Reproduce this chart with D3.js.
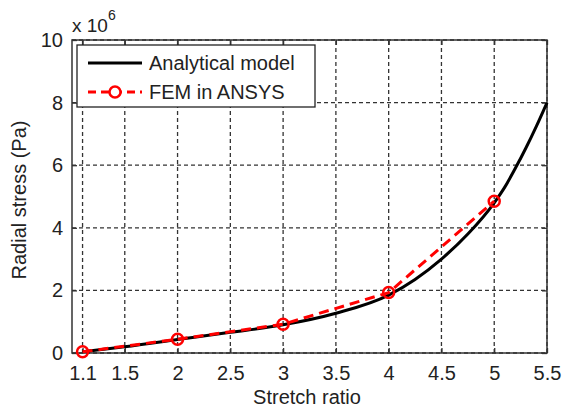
<!DOCTYPE html>
<html>
<head>
<meta charset="utf-8">
<script src="https://cdn.jsdelivr.net/npm/d3@7"></script>
<style>
  html, body { margin: 0; padding: 0; background: #fff; }
  svg text { font-family: "Liberation Sans", Arial, sans-serif; fill: #222; }
</style>
</head>
<body>
<svg id="chart" width="565" height="417"></svg>
<script>
// Analytical model curve (stretch ratio vs radial stress, in 10^6 Pa)
const analyticalStretch = [1.1, 1.5, 2, 2.5, 3, 3.5, 4, 4.25, 4.5, 4.75, 5, 5.1, 5.2, 5.3, 5.4, 5.5];
const analyticalStress  = [0.04, 0.2, 0.43, 0.66, 0.9, 1.27, 1.85, 2.35, 3.0, 3.8, 4.8, 5.3, 5.9, 6.55, 7.25, 8.0];

// FEM results from ANSYS
const femStretch = [1.1, 2, 3, 4, 5];
const femStress  = [0.04, 0.44, 0.92, 1.93, 4.85];

// Axis ticks
const xTicks = [1.1, 1.5, 2, 2.5, 3, 3.5, 4, 4.5, 5, 5.5];
const yTicks = [0, 2, 4, 6, 8, 10];

const seriesNames = ["Analytical model", "FEM in ANSYS"];

const svg = d3.select("#chart");
const m = { left: 72, right: 18, top: 40, bottom: 64 };
const W = 565, H = 417;
const pw = W - m.left - m.right, ph = H - m.top - m.bottom;

const x = d3.scaleLinear().domain([1, 5.5]).range([m.left, m.left + pw]);
const y = d3.scaleLinear().domain([0, 10]).range([m.top + ph, m.top]);

const g = svg.append("g");

// dotted grid
g.append("g").selectAll("line").data(xTicks).join("line")
  .attr("x1", d => x(d)).attr("x2", d => x(d))
  .attr("y1", y(0)).attr("y2", y(10))
  .attr("stroke", "#333").attr("stroke-width", 1.3).attr("stroke-dasharray", "4,3");
g.append("g").selectAll("line").data(yTicks).join("line")
  .attr("x1", x(1)).attr("x2", x(5.5))
  .attr("y1", d => y(d)).attr("y2", d => y(d))
  .attr("stroke", "#333").attr("stroke-width", 1.3).attr("stroke-dasharray", "4,3");

// axes with inward ticks on all four sides
const fs = 20;
const bottomAxis = d3.axisBottom(x).tickValues(xTicks).tickSizeInner(-5).tickSizeOuter(0).tickPadding(13).tickFormat(d3.format("~g"));
const topAxis = d3.axisTop(x).tickValues(xTicks).tickSizeInner(-5).tickSizeOuter(0).tickFormat("");
const leftAxis = d3.axisLeft(y).tickValues(yTicks).tickSizeInner(-5).tickSizeOuter(0).tickPadding(9).tickFormat(d3.format("d"));
const rightAxis = d3.axisRight(y).tickValues(yTicks).tickSizeInner(-5).tickSizeOuter(0).tickFormat("");

function styleAxis(sel) {
  sel.select(".domain").remove();
  sel.selectAll(".tick line").attr("stroke", "#333").attr("stroke-width", 1.3);
  sel.selectAll(".tick text").attr("font-size", fs).attr("fill", "#222")
     .attr("font-family", "Liberation Sans, Arial, sans-serif");
}
g.append("g").attr("transform", `translate(0,${y(0)})`).call(bottomAxis).call(styleAxis);
g.append("g").attr("transform", `translate(0,${y(10)})`).call(topAxis).call(styleAxis);
g.append("g").attr("transform", `translate(${x(1)},0)`).call(leftAxis).call(styleAxis);
g.append("g").attr("transform", `translate(${x(5.5)},0)`).call(rightAxis).call(styleAxis);

// frame
g.append("rect").attr("x", x(1)).attr("y", y(10))
  .attr("width", x(5.5) - x(1)).attr("height", y(0) - y(10))
  .attr("fill", "none").attr("stroke", "#333").attr("stroke-width", 1.5);

// analytical curve
const analytical = analyticalStretch.map((s, i) => [s, analyticalStress[i]]);
const fem = femStretch.map((s, i) => [s, femStress[i]]);

const curve = d3.line().x(d => x(d[0])).y(d => y(d[1])).curve(d3.curveMonotoneX);
const straight = d3.line().x(d => x(d[0])).y(d => y(d[1]));

g.append("path").datum(analytical).attr("d", curve)
  .attr("fill", "none").attr("stroke", "#000").attr("stroke-width", 3);

g.append("path").datum(fem).attr("d", straight)
  .attr("fill", "none").attr("stroke", "#f00").attr("stroke-width", 3)
  .attr("stroke-dasharray", "10,6");

g.append("g").selectAll("circle").data(fem).join("circle")
  .attr("cx", d => x(d[0])).attr("cy", d => y(d[1])).attr("r", 5.5)
  .attr("fill", "none").attr("stroke", "#f00").attr("stroke-width", 2.5);

// exponent label
const expo = svg.append("text").attr("x", 72).attr("y", 32).attr("font-size", 19);
expo.append("tspan").text("x 10");
expo.append("tspan").attr("dy", -12).attr("font-size", 14).text("6");

// axis titles
svg.append("text").attr("x", 307).attr("y", 404).attr("text-anchor", "middle")
  .attr("font-size", fs).text("Stretch ratio");
svg.append("text").attr("transform", "translate(26,200) rotate(-90)")
  .attr("text-anchor", "middle").attr("font-size", fs).text("Radial stress (Pa)");

// legend
const lg = svg.append("g");
lg.append("rect").attr("x", 77).attr("y", 45).attr("width", 238).attr("height", 62)
  .attr("fill", "#fff").attr("stroke", "#222").attr("stroke-width", 1.3);
lg.append("line").attr("x1", 88).attr("x2", 142).attr("y1", 63).attr("y2", 63)
  .attr("stroke", "#000").attr("stroke-width", 3);
lg.append("line").attr("x1", 88).attr("x2", 142).attr("y1", 92).attr("y2", 92)
  .attr("stroke", "#f00").attr("stroke-width", 3).attr("stroke-dasharray", "8,5");
lg.append("circle").attr("cx", 115).attr("cy", 92).attr("r", 5.5)
  .attr("fill", "#fff").attr("stroke", "#f00").attr("stroke-width", 2.5);
lg.selectAll("text.leg").data(seriesNames).join("text").attr("class", "leg")
  .attr("x", 149).attr("y", (d, i) => 70 + i * 29).attr("font-size", fs).text(d => d);
</script>
</body>
</html>
